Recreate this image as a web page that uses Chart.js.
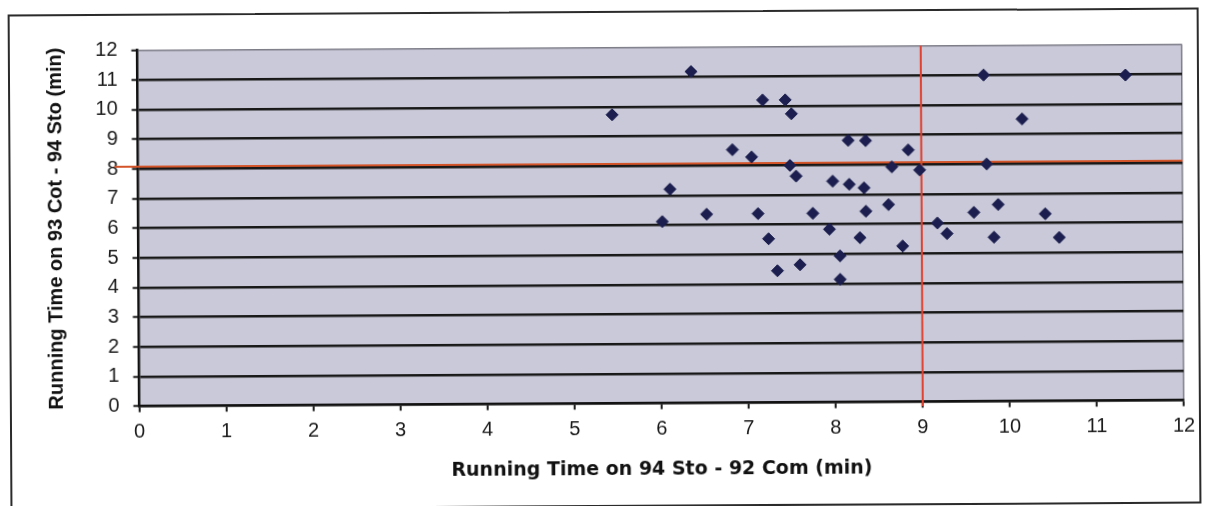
<!DOCTYPE html>
<html>
<head>
<meta charset="utf-8">
<title>Running time scatter</title>
<script src="https://cdn.jsdelivr.net/npm/chart.js@4.4.1/dist/chart.umd.min.js"></script>
<style>
  html, body { margin: 0; padding: 0; background: #fff; overflow: hidden; }
  #page { position: relative; width: 1211px; height: 506px; transform: rotate(-0.33deg); transform-origin: 605px 253px; }
  #frame { position: absolute; left: 9.3px; top: 10.7px; width: 1186.7px; height: 492.4px; border: 2px solid #2b2b2b; }
  #chart { position: absolute; left: 0; top: 0; }
</style>
</head>
<body>
<div id="page">
  <div id="frame"></div>
  <canvas id="chart" width="1211" height="506"></canvas>
</div>
<script>
// running times (min): 94 Sto - 92 Com on x, 93 Cot - 94 Sto on y
const sto94Com92 = [
  6.36, 7.18, 7.44, 5.45, 7.51, 8.16, 8.36, 6.83, 7.05, 7.49, 7.56,
  7.98, 8.17, 8.34, 6.11, 8.36, 6.02, 6.53, 7.12, 7.75, 7.94, 8.29,
  7.24, 8.06, 7.60, 7.34, 8.06, 9.72, 11.35, 10.16, 8.85, 8.66, 8.98,
  9.75, 8.62, 9.60, 9.88, 10.42, 9.18, 9.29, 9.83, 10.58, 8.78
];
const cot93Sto94 = [
  11.17, 10.20, 10.20, 9.73, 9.73, 8.82, 8.81, 8.53, 8.28, 7.99, 7.63,
  7.45, 7.34, 7.22, 7.21, 6.43, 6.12, 6.36, 6.37, 6.37, 5.83, 5.54,
  5.52, 4.93, 4.64, 4.44, 4.14, 11.00, 10.97, 9.51, 8.49, 7.92, 7.81,
  8.00, 6.65, 6.37, 6.63, 6.31, 6.02, 5.66, 5.53, 5.51, 5.25
];

// axis range and the two reference lines
const axisRange = [0, 12];
const refX = 9;
const refY = 8.07;
const refXSpan = [-0.15, 12];
const refYSpan = [-0.27, 12];

const points = sto94Com92.map((x, i) => ({ x: x, y: cot93Sto94[i] }));

const plotBackground = {
  id: 'plotBackground',
  beforeDraw(chart) {
    const { ctx, chartArea: a } = chart;
    ctx.save();
    ctx.fillStyle = '#c9c9d9';
    ctx.fillRect(a.left, a.top, a.right - a.left, a.bottom - a.top);
    ctx.restore();
  }
};

const tickFont = { family: 'Liberation Sans', size: 20 };

new Chart(document.getElementById('chart').getContext('2d'), {
  type: 'scatter',
  data: {
    datasets: [
      {
        type: 'scatter',
        data: points,
        pointStyle: 'rectRot',
        pointRadius: 6,
        pointBorderWidth: 1,
        pointBackgroundColor: '#1b1e4e',
        pointBorderColor: '#1b1e4e',
        order: 0
      },
      {
        type: 'line',
        data: [{ x: refYSpan[0], y: refY }, { x: refYSpan[1], y: refY }],
        borderColor: '#d4542a',
        borderWidth: 2,
        pointRadius: 0,
        clip: false,
        order: 1
      },
      {
        type: 'line',
        data: [{ x: refX, y: refXSpan[0] }, { x: refX, y: refXSpan[1] }],
        borderColor: '#e0402e',
        borderWidth: 2,
        pointRadius: 0,
        clip: false,
        order: 1
      }
    ]
  },
  options: {
    responsive: false,
    animation: false,
    layout: { padding: { left: 0, top: 47.5, right: 28, bottom: 0 } },
    plugins: { legend: { display: false }, tooltip: { enabled: false } },
    scales: {
      x: {
        type: 'linear',
        min: axisRange[0],
        max: axisRange[1],
        afterFit: s => { s.height = 102.5; },
        ticks: { stepSize: 1, padding: 8, color: '#1a1a1a', font: tickFont },
        grid: {
          color: c => (c.tick && c.tick.value === 12 ? '#7d7d88' : 'rgba(0,0,0,0)'),
          lineWidth: 1.5,
          tickColor: '#1a1a1a',
          tickLength: 6,
          tickWidth: 2
        },
        border: { color: '#111', width: 2.5 },
        title: {
          display: true,
          text: 'Running Time on 94 Sto - 92 Com (min)',
          color: '#111',
          font: { family: 'DejaVu Sans', size: 19, weight: 'bold' },
          padding: { top: 0, bottom: 25 }
        }
      },
      y: {
        type: 'linear',
        min: axisRange[0],
        max: axisRange[1],
        afterFit: s => { s.width = 138.5; },
        ticks: { stepSize: 1, padding: 14, color: '#1a1a1a', font: tickFont },
        grid: {
          color: c => (c.tick && c.tick.value === 12 ? '#7d7d88' : '#181818'),
          lineWidth: c => (c.tick && c.tick.value === 12 ? 1.5 : 2.5),
          tickColor: '#1a1a1a',
          tickLength: 6,
          tickWidth: 2
        },
        border: { color: '#111', width: 2.5 },
        title: {
          display: true,
          text: 'Running Time on 93 Cot - 94 Sto (min)',
          color: '#111',
          font: { family: 'Liberation Sans', size: 20, weight: 'bold' },
          padding: { top: 44, bottom: 0 }
        }
      }
    }
  },
  plugins: [plotBackground]
});
</script>
</body>
</html>
